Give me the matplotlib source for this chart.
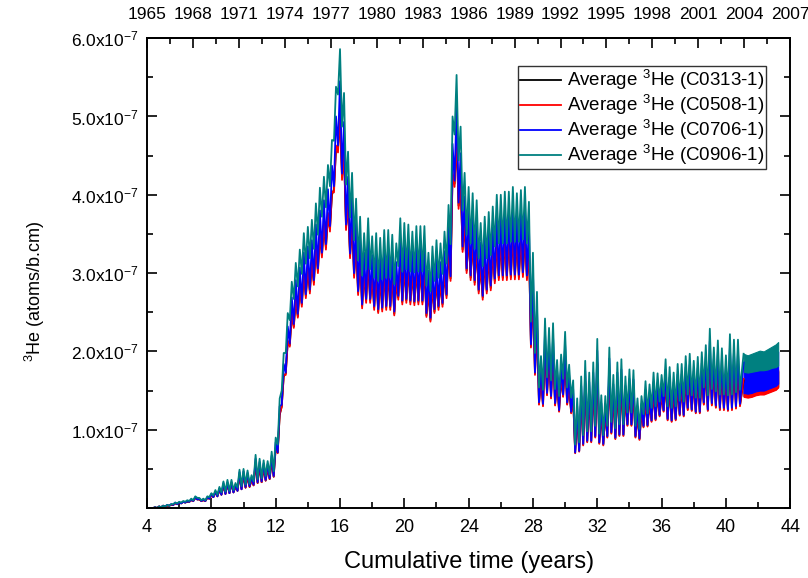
import numpy as np
import matplotlib
matplotlib.use("Agg")
import matplotlib.pyplot as plt
from matplotlib.ticker import FixedLocator, MultipleLocator

plt.rcParams['font.family'] = ['Liberation Sans', 'DejaVu Sans']
plt.rcParams['mathtext.fontset'] = 'custom'
plt.rcParams['mathtext.rm'] = 'Liberation Sans'
plt.rcParams['mathtext.default'] = 'regular'

# one peak and one trough per quarter year, from t = 4.0
# values in 1e-9 atoms/b.cm
t_start = 4.0
t_step = 0.25

teal_peak = [0, 0, 1, 2, 3, 4, 5, 7, 8, 9,
             10, 12, 15, 13, 12, 15, 19, 23, 27, 34,
             36, 36, 32, 49, 50, 48, 42, 68, 63, 61,
             60, 72, 90, 140, 198, 249, 289, 313, 330, 351,
             359, 368, 389, 409, 423, 438, 470, 538, 586, 530,
             455, 428, 395, 372, 351, 370, 347, 351, 345, 355,
             355, 349, 338, 370, 364, 362, 353, 360, 360, 360,
             326, 334, 342, 338, 353, 387, 500, 553, 487, 428,
             410, 402, 393, 364, 372, 378, 385, 400, 400, 404,
             404, 410, 402, 406, 410, 391, 326, 276, 194, 242,
             230, 236, 189, 196, 225, 183, 163, 140, 168, 188,
             173, 186, 216, 144, 143, 205, 170, 186, 190, 168,
             177, 176, 140, 143, 162, 158, 173, 172, 170, 190,
             180, 173, 184, 184, 194, 197, 188, 193, 199, 208,
             229, 205, 214, 204, 195, 222, 215, 215]
teal_trough = [0, 0, 0, 1, 2, 3, 5, 6, 7, 8,
               9, 10, 13, 10, 10, 14, 16, 17, 20, 21,
               22, 23, 26, 28, 30, 31, 34, 37, 38, 41,
               43, 47, 81, 150, 198, 240, 267, 283, 299, 312,
               319, 331, 349, 372, 384, 411, 469, 528, 487, 413,
               371, 342, 316, 297, 305, 305, 294, 290, 292, 294,
               294, 286, 309, 302, 305, 302, 301, 302, 302, 284,
               277, 290, 294, 299, 312, 337, 477, 444, 380, 349,
               338, 331, 319, 309, 319, 323, 334, 338, 338, 338,
               340, 340, 340, 343, 338, 238, 198, 154, 151, 167,
               163, 152, 143, 165, 154, 141, 81, 84, 93, 98,
               98, 105, 95, 93, 105, 110, 102, 107, 107, 122,
               122, 105, 101, 120, 121, 128, 130, 136, 143, 130,
               128, 130, 137, 136, 145, 144, 141, 141, 154, 144,
               152, 149, 145, 145, 144, 145, 148, 151]

blue_peak = [0, 0, 1, 2, 3, 4, 5, 7, 7, 8,
             9, 11, 14, 12, 11, 14, 18, 21, 25, 32,
             33, 33, 30, 46, 47, 45, 39, 63, 59, 57,
             56, 67, 84, 130, 184, 232, 269, 291, 307, 326,
             334, 342, 362, 380, 393, 407, 437, 500, 545, 493,
             423, 398, 367, 346, 326, 344, 323, 326, 321, 330,
             330, 325, 314, 344, 339, 337, 328, 335, 335, 335,
             303, 311, 318, 314, 328, 360, 465, 514, 453, 398,
             381, 374, 365, 339, 346, 352, 358, 372, 372, 376,
             376, 381, 374, 378, 381, 364, 303, 257, 180, 225,
             214, 219, 176, 182, 209, 170, 152, 130, 156, 175,
             161, 173, 201, 134, 133, 191, 158, 173, 177, 156,
             165, 164, 130, 133, 151, 147, 161, 160, 158, 177,
             167, 161, 171, 171, 180, 183, 175, 179, 185, 193,
             213, 191, 199, 190, 181, 206, 200, 200]
blue_trough = [0, 0, 0, 1, 2, 3, 4, 5, 6, 7,
               8, 9, 11, 9, 9, 12, 14, 15, 17, 18,
               19, 20, 22, 24, 27, 28, 30, 33, 34, 36,
               38, 41, 71, 132, 173, 210, 235, 248, 262, 273,
               279, 291, 306, 326, 337, 360, 411, 463, 427, 362,
               325, 300, 277, 260, 267, 267, 258, 254, 256, 258,
               258, 251, 271, 265, 267, 265, 264, 265, 265, 249,
               243, 254, 258, 262, 273, 296, 418, 390, 334, 306,
               297, 291, 279, 271, 279, 284, 293, 297, 297, 297,
               298, 298, 298, 301, 297, 209, 173, 135, 133, 147,
               143, 134, 125, 145, 135, 123, 71, 73, 82, 86,
               86, 92, 84, 82, 92, 97, 90, 94, 94, 107,
               107, 92, 89, 105, 106, 112, 114, 119, 125, 114,
               112, 114, 120, 119, 128, 126, 123, 123, 135, 126,
               134, 131, 128, 128, 126, 128, 130, 133]

red_peak = [0, 0, 1, 2, 3, 3, 4, 6, 7, 8,
            9, 10, 13, 11, 10, 13, 16, 20, 23, 29,
            31, 31, 28, 42, 43, 41, 36, 58, 54, 52,
            52, 62, 77, 120, 170, 214, 249, 269, 284, 302,
            309, 316, 335, 352, 364, 377, 404, 463, 504, 456,
            391, 368, 340, 320, 302, 318, 298, 302, 297, 305,
            305, 300, 291, 318, 313, 311, 304, 310, 310, 310,
            280, 287, 294, 291, 304, 333, 430, 476, 419, 368,
            353, 346, 338, 313, 320, 325, 331, 344, 344, 347,
            347, 353, 346, 349, 353, 336, 280, 237, 167, 208,
            198, 203, 163, 169, 194, 157, 140, 120, 144, 162,
            149, 160, 186, 124, 123, 176, 146, 160, 163, 144,
            152, 151, 120, 123, 139, 136, 149, 148, 146, 163,
            155, 149, 158, 158, 167, 169, 162, 166, 171, 179,
            197, 176, 184, 175, 168, 191, 185, 185]
red_trough = [0, 0, 0, 1, 2, 3, 4, 5, 6, 7,
              8, 9, 11, 9, 9, 12, 14, 15, 17, 18,
              19, 20, 22, 24, 26, 27, 29, 32, 33, 35,
              37, 40, 70, 129, 170, 206, 230, 243, 257, 268,
              274, 285, 300, 320, 330, 353, 403, 454, 419, 355,
              319, 294, 272, 255, 262, 262, 253, 249, 251, 253,
              253, 246, 266, 260, 262, 260, 259, 260, 260, 244,
              238, 249, 253, 257, 268, 290, 410, 382, 327, 300,
              291, 285, 274, 266, 274, 278, 287, 291, 291, 291,
              292, 292, 292, 295, 291, 205, 170, 132, 130, 144,
              140, 131, 123, 142, 132, 121, 70, 72, 80, 84,
              84, 90, 82, 80, 90, 95, 88, 92, 92, 105,
              105, 90, 87, 103, 104, 110, 112, 117, 123, 112,
              110, 112, 118, 117, 125, 124, 121, 121, 132, 124,
              131, 128, 125, 125, 124, 125, 127, 130]

black_peak = [0, 0, 1, 2, 3, 3, 4, 6, 7, 8,
              8, 10, 13, 11, 10, 13, 16, 20, 23, 29,
              31, 31, 27, 42, 43, 41, 36, 58, 54, 52,
              51, 61, 77, 119, 168, 212, 246, 266, 281, 298,
              305, 313, 331, 348, 360, 372, 400, 457, 498, 451,
              387, 364, 336, 316, 298, 315, 295, 298, 293, 302,
              302, 297, 287, 315, 309, 308, 300, 306, 306, 306,
              277, 284, 291, 287, 300, 329, 425, 470, 414, 364,
              349, 342, 334, 309, 316, 321, 327, 340, 340, 343,
              343, 349, 342, 345, 349, 332, 277, 235, 165, 206,
              196, 201, 161, 167, 191, 156, 139, 119, 143, 160,
              147, 158, 184, 122, 122, 174, 145, 158, 162, 143,
              150, 150, 119, 122, 138, 134, 147, 146, 145, 162,
              153, 147, 156, 156, 165, 167, 160, 164, 169, 177,
              195, 174, 182, 173, 166, 189, 183, 183]
black_trough = [0, 0, 0, 1, 2, 3, 4, 5, 6, 7,
                8, 9, 11, 9, 9, 12, 14, 15, 17, 18,
                19, 20, 22, 24, 26, 27, 29, 32, 33, 35,
                37, 40, 71, 130, 172, 208, 232, 245, 260, 271,
                277, 288, 303, 323, 333, 357, 407, 459, 423, 359,
                322, 297, 275, 258, 265, 265, 256, 251, 254, 256,
                256, 248, 269, 263, 265, 263, 262, 263, 263, 246,
                240, 251, 256, 260, 271, 293, 414, 386, 330, 303,
                294, 288, 277, 269, 277, 281, 290, 294, 294, 294,
                295, 295, 295, 298, 294, 207, 172, 133, 131, 145,
                141, 132, 124, 143, 133, 122, 71, 73, 81, 85,
                85, 91, 83, 81, 91, 96, 89, 93, 93, 106,
                106, 91, 88, 104, 105, 111, 113, 118, 124, 113,
                111, 113, 119, 118, 126, 125, 122, 122, 133, 125,
                132, 129, 126, 126, 125, 126, 128, 131]

# last two years: fast oscillation, drawn as a band (low / high edge)
band_t = [41.1, 41.35, 41.6, 41.85, 42.1, 42.35, 42.6, 42.85, 43.1, 43.25]
teal_band_lo = [174, 173, 174, 175, 176, 176, 177, 179, 180, 182]
teal_band_hi = [197, 195, 197, 199, 201, 200, 203, 206, 209, 212]
blue_band_lo = [147, 146, 147, 149, 150, 150, 152, 154, 156, 159]
blue_band_hi = [186, 185, 186, 188, 190, 189, 192, 195, 197, 200]
red_band_lo = [142, 141, 142, 144, 145, 145, 147, 149, 151, 154]
red_band_hi = [165, 164, 165, 167, 168, 168, 170, 172, 174, 177]
black_band_lo = [143, 142, 143, 145, 146, 146, 148, 150, 152, 155]
black_band_hi = [163, 162, 163, 165, 166, 166, 168, 170, 172, 175]

series = [
    ("C0313-1", "black", black_peak, black_trough, black_band_lo, black_band_hi),
    ("C0508-1", "#ff0000", red_peak, red_trough, red_band_lo, red_band_hi),
    ("C0706-1", "#0000ff", blue_peak, blue_trough, blue_band_lo, blue_band_hi),
    ("C0906-1", "#008080", teal_peak, teal_trough, teal_band_lo, teal_band_hi),
]

fig = plt.figure(figsize=(8.08, 5.78), dpi=100)
ax = fig.add_axes([0.182, 0.121, 0.796, 0.813])

n = len(teal_peak)
t_peak = t_start + t_step * np.arange(n)
t_trough = t_peak + t_step / 2
t = np.empty(2 * n)
t[0::2] = t_peak
t[1::2] = t_trough
scale = 1e-9

for name, color, pk, tr, lo, hi in series:
    y = np.empty(2 * n)
    y[0::2] = pk
    y[1::2] = tr
    tt = np.append(t, band_t[0])
    yy = np.append(y, hi[0])
    ax.plot(tt, yy * scale, color=color, lw=1.3,
            label="Average $^{3}$He (%s)" % name)
    ax.fill_between(band_t, np.array(lo) * scale, np.array(hi) * scale,
                    color=color, lw=0.8)

ax.set_xlim(4, 44)
ax.set_ylim(0, 6e-7)

ax.xaxis.set_major_locator(MultipleLocator(4))
ax.xaxis.set_minor_locator(MultipleLocator(2))
ax.yaxis.set_major_locator(FixedLocator([1e-7, 2e-7, 3e-7, 4e-7, 5e-7, 6e-7]))
ax.yaxis.set_minor_locator(MultipleLocator(0.5e-7))
ax.set_yticklabels(["%.1fx10$^{-7}$" % v for v in [1, 2, 3, 4, 5, 6]])

ax.tick_params(which="both", direction="in", right=True, width=1.2)
ax.tick_params(which="major", length=7)
ax.tick_params(which="minor", length=4)
ax.tick_params(axis="x", labelsize=13, pad=8)
ax.tick_params(axis="y", labelsize=12.5, pad=6)
for s in ax.spines.values():
    s.set_linewidth(1.4)

ax.set_xlabel("Cumulative time (years)", fontsize=17, labelpad=11)
ax.set_ylabel("$^{3}$He (atoms/b.cm)", fontsize=13)
ax.yaxis.set_label_coords(-0.155, 0.462)


def to_year(x):
    return 1965 + (x - 4) * 42.0 / 40.0


def from_year(y):
    return 4 + (y - 1965) * 40.0 / 42.0


top = ax.secondary_xaxis("top", functions=(to_year, from_year))
top.set_xticks(np.arange(1965, 2008, 3))
top.xaxis.set_minor_locator(MultipleLocator(1.5))
top.tick_params(which="both", direction="in", width=1.2, labelsize=12.5, pad=11.5)
top.tick_params(which="major", length=7)
top.tick_params(which="minor", length=4)
top.spines["top"].set_linewidth(1.4)

leg = ax.legend(loc="upper right", bbox_to_anchor=(0.963, 0.94), fontsize=13.5,
                frameon=True, fancybox=False, edgecolor="black",
                borderaxespad=0, handlelength=2.2, handletextpad=0.3,
                labelspacing=0.05, borderpad=0.1)
leg.get_frame().set_linewidth(1.0)

fig.savefig("out.png", dpi=100)
